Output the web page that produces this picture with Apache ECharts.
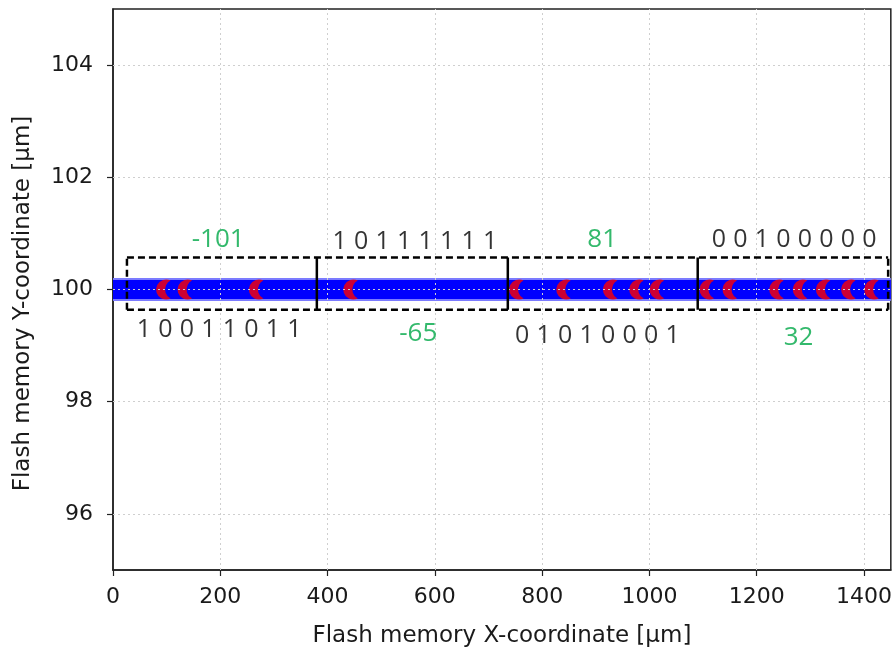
<!DOCTYPE html>
<html>
<head>
<meta charset="utf-8">
<script src="https://cdn.jsdelivr.net/npm/echarts@6/dist/echarts.min.js"></script>
<style>
  html, body { margin: 0; padding: 0; background: #fff; }
  #chart { width: 895px; height: 653px; }
</style>
</head>
<body>
<div id="chart"></div>
<script>
// axis ticks
const xTicks = [0, 200, 400, 600, 800, 1000, 1200, 1400]
const yTicks = [96, 98, 100, 102, 104]

// the written track (blue) and the x positions of the '0' bits (red marks)
const trackX = [0, 1450]
const trackY = 100
const zeroBitX = [99, 139, 272, 448, 757, 845, 932, 981, 1019, 1112, 1155, 1242, 1286, 1329, 1376, 1419]

// dashed boxes around each byte
const boxEdges = [26, 380, 736, 1090, 1445]
const boxTop = 100.57
const boxBottom = 99.64

// byte words and their signed decimal values
const binaryLabels = ['10011011', '10111111', '01010001', '00100000']
const binaryX = [198, 563, 903, 1270]
const binaryY = [99.28, 100.85, 99.17, 100.89]
const decimalLabels = ['-101', '-65', '81', '32']
const decimalX = [196, 569, 912, 1278]
const decimalY = [100.89, 99.21, 100.89, 99.14]

const tickFont = 'DejaVu Sans'
const noteFont = 'Open Sans'
const crescent = 'path://M14.5,1.07A10,10,0,1,0,14.5,18.93A10,10,0,0,1,14.5,1.07Z'

const chart = echarts.init(document.getElementById('chart'))

const lastEdge = boxEdges.length - 1
const boxLines = [
  { data: [[boxEdges[0], boxTop], [boxEdges[lastEdge], boxTop]], type: [7, 4] },
  { data: [[boxEdges[0], boxBottom], [boxEdges[lastEdge], boxBottom]], type: [7, 4] },
  { data: [[boxEdges[0], boxBottom], [boxEdges[0], boxTop]], type: [7, 4] },
  { data: [[boxEdges[lastEdge], boxBottom], [boxEdges[lastEdge], boxTop]], type: [7, 4] }
]
for (let i = 1; i < lastEdge; i++) {
  boxLines.push({ data: [[boxEdges[i], boxBottom], [boxEdges[i], boxTop]], type: 'solid' })
}

const series = [
  {
    // soft edge of the track
    type: 'line',
    data: trackX.map(x => [x, trackY]),
    symbol: 'none',
    lineStyle: { color: '#7b7bff', width: 23, cap: 'butt' },
    z: 2,
    silent: true
  },
  {
    type: 'line',
    data: trackX.map(x => [x, trackY]),
    symbol: 'none',
    lineStyle: { color: '#0000ff', width: 19, cap: 'butt' },
    z: 3,
    silent: true
  },
  {
    type: 'scatter',
    data: zeroBitX.map(x => [x, trackY]),
    symbol: crescent,
    symbolSize: [14.5, 20],
    symbolOffset: [-2.75, 0],
    itemStyle: { color: '#ff0000' },
    z: 4,
    silent: true
  },
  {
    // grid drawn over the track, like the original
    type: 'line',
    data: [],
    z: 6,
    silent: true,
    markLine: {
      silent: true,
      symbol: 'none',
      label: { show: false },
      lineStyle: { color: '#cfcfcf', width: 1, type: [2, 3] },
      data: xTicks.filter(v => v > 0).map(v => ({ xAxis: v })).concat(yTicks.map(v => ({ yAxis: v })))
    }
  }
]

boxLines.forEach(b => {
  series.push({
    type: 'line',
    data: b.data,
    symbol: 'none',
    lineStyle: { color: '#000', width: 2.5, type: b.type, cap: 'butt' },
    z: 7,
    silent: true
  })
})

series.push({
  type: 'scatter',
  data: binaryLabels.map((t, i) => ({ name: t, value: [binaryX[i], binaryY[i]] })),
  symbolSize: 1,
  itemStyle: { color: 'transparent' },
  z: 8,
  silent: true,
  label: {
    show: true,
    position: 'inside',
    formatter: p => p.name.split('').map(c => '{d|' + c + '}').join(''),
    rich: {
      d: { width: 21.5, align: 'center', fontSize: 25, fontFamily: noteFont, color: '#000' }
    }
  }
})

series.push({
  type: 'scatter',
  data: decimalLabels.map((t, i) => ({ name: t, value: [decimalX[i], decimalY[i]] })),
  symbolSize: 1,
  itemStyle: { color: 'transparent' },
  z: 8,
  silent: true,
  label: {
    show: true,
    position: 'inside',
    formatter: p => p.name,
    fontSize: 26,
    fontFamily: noteFont,
    color: '#00a847'
  }
})

chart.setOption({
  animation: false,
  grid: {
    left: 113,
    right: 3,
    top: 9,
    bottom: 83,
    show: true,
    borderColor: '#222',
    borderWidth: 1.5,
    backgroundColor: '#fff'
  },
  xAxis: {
    type: 'value',
    min: 0,
    max: 1450,
    name: 'Flash memory X-coordinate [\u03bcm]',
    nameLocation: 'middle',
    nameGap: 55,
    nameTextStyle: { fontSize: 23, fontFamily: tickFont, color: '#1a1a1a' },
    axisLine: { lineStyle: { color: '#222', width: 1.5 } },
    axisTick: { customValues: xTicks, length: 6, lineStyle: { color: '#222', width: 1.2 } },
    axisLabel: { customValues: xTicks, formatter: v => String(v), fontSize: 22, fontFamily: tickFont, color: '#1a1a1a', margin: 16 },
    splitLine: { show: false }
  },
  yAxis: {
    type: 'value',
    min: 95,
    max: 105,
    name: 'Flash memory Y-coordinate [\u03bcm]',
    nameLocation: 'middle',
    nameGap: 78,
    nameTextStyle: { fontSize: 23, fontFamily: tickFont, color: '#1a1a1a', padding: [0, 0, 0, -28] },
    axisLine: { lineStyle: { color: '#222', width: 1.5 } },
    axisTick: { customValues: yTicks, length: 6, lineStyle: { color: '#222', width: 1.2 } },
    axisLabel: { customValues: yTicks, formatter: v => String(v), fontSize: 22, fontFamily: tickFont, color: '#1a1a1a', margin: 20 },
    splitLine: { show: false }
  },
  series: series
})
</script>
</body>
</html>
